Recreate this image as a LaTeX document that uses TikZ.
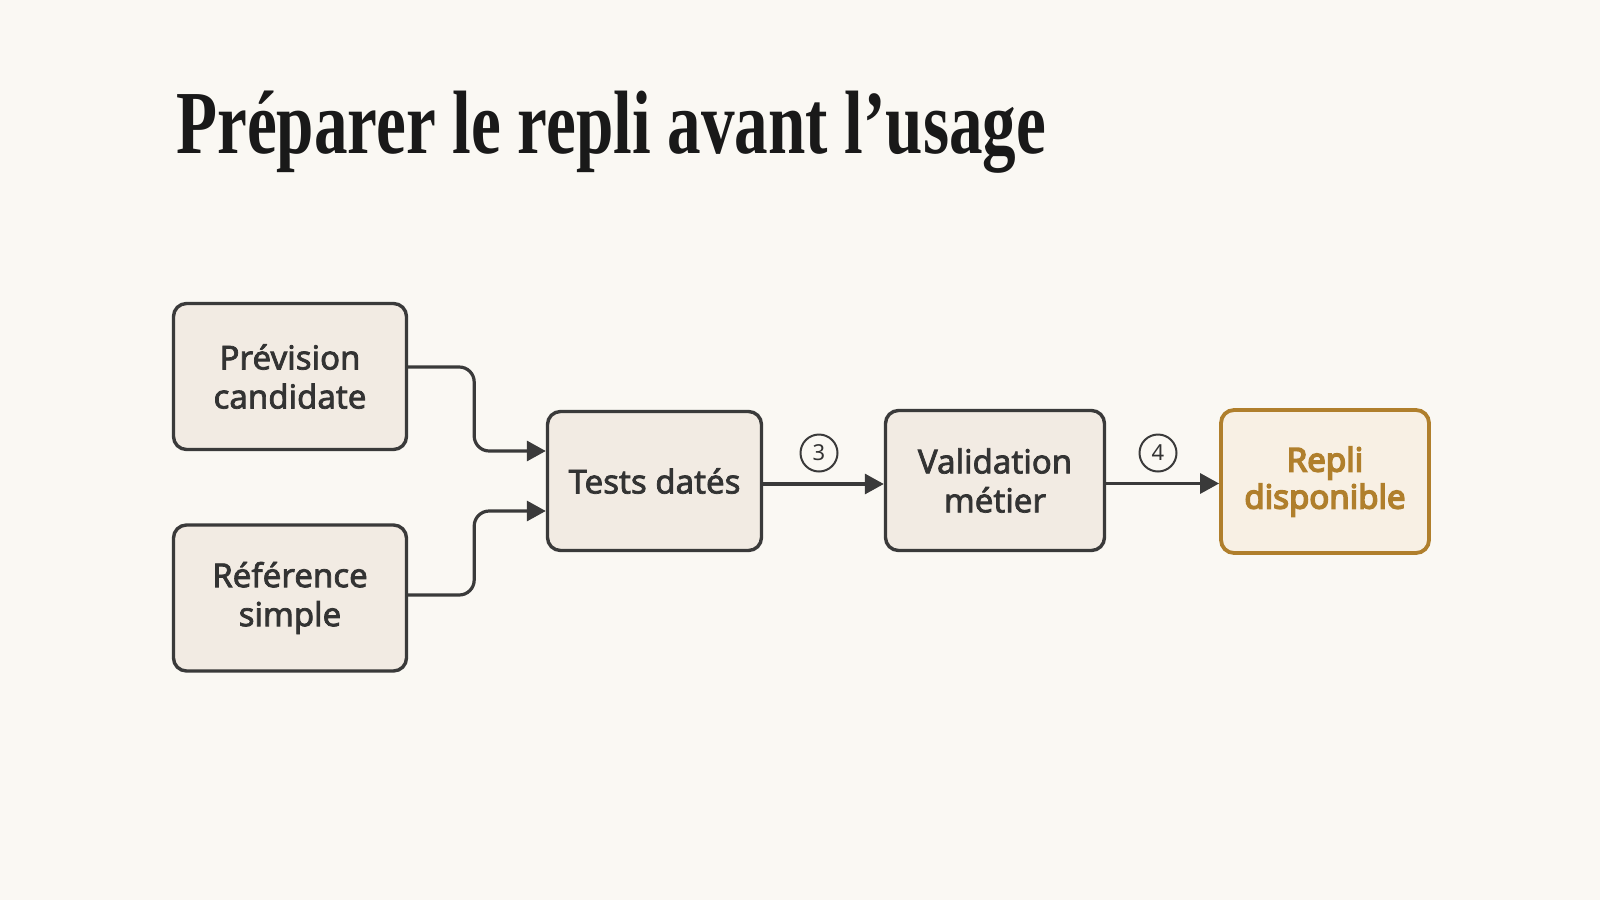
\documentclass[tikz,border=0pt]{standalone}
\usepackage{fontspec}
\usepackage{graphicx}
\setmainfont{Noto Sans}
\newfontfamily\titlefont{Liberation Serif}
\newfontfamily\boxfont{Noto Sans}[FakeBold=2.2]
\newfontfamily\goalfont{Noto Sans}[FakeBold=4.5]
\usetikzlibrary{arrows.meta,positioning}
\definecolor{bg}{HTML}{FAF8F3}
\definecolor{boxfill}{HTML}{F2EBE3}
\definecolor{boxline}{HTML}{3A3A3A}
\definecolor{txt}{HTML}{333333}
\definecolor{gold}{HTML}{B07F2C}
\definecolor{goldfill}{HTML}{F8F0E4}
\tikzset{
  stepbox/.style={draw=boxline, line width=3.4pt, fill=boxfill, rounded corners=13pt,
    align=center, text=txt, font=\boxfont\fontsize{33}{39}\selectfont, inner sep=0pt},
  goalbox/.style={stepbox, draw=gold, line width=3.8pt, fill=goldfill, text=gold,
    font=\goalfont\fontsize{33}{37}\selectfont},
  conn/.style={draw=boxline, line width=3.2pt, -{Triangle[length=19pt,width=20pt]}, rounded corners=15pt},
  numcirc/.style={circle, draw=boxline, line width=2pt, minimum size=37pt, inner sep=0pt,
    text=txt, font=\fontsize{22}{22}\selectfont}
}
\begin{document}
\begin{tikzpicture}[x=1pt,y=-1pt]
\fill[bg] (0,0) rectangle (1600,900);
\useasboundingbox (0,0) rectangle (1600,900);
\node[anchor=base west, inner sep=0pt, text=black!90] (title) at (176,153)
  {\resizebox{870pt}{\height}{\titlefont\fontsize{90}{90}\selectfont\bfseries Préparer le repli avant l’usage}};
\node[stepbox, minimum width=233pt, minimum height=146pt] (prev) at (290,376.5) {Prévision\\candidate};
\node[stepbox, minimum width=233pt, minimum height=146pt] (ref) at (290,598) {Référence\\simple};
\node[stepbox, minimum width=214pt, minimum height=139pt] (tests) at (654.5,481) {Tests datés};
\node[stepbox, minimum width=219pt, minimum height=140pt] (valid) at (995,480.5) {Validation\\métier};
\node[goalbox, minimum width=208pt, minimum height=143pt] (repli) at (1325,481.5) {Repli\\disponible};
\draw[conn] ([yshift=9.5pt]prev.east) -- ++(66,0) |- ([yshift=30pt]tests.west);
\draw[conn] ([yshift=3pt]ref.east) -- ++(66,0) |- ([yshift=-30pt]tests.west);
\draw[conn] ([yshift=-3pt]tests.east) -- ([yshift=-3pt]tests.east -| valid.west);
\draw[conn] ([yshift=-3pt]valid.east) -- ([yshift=-3pt]valid.east -| repli.west);
\node[numcirc] (n3) at (819,453) {3};
\node[numcirc] (n4) at (1158,453) {4};
\end{tikzpicture}
\end{document}
